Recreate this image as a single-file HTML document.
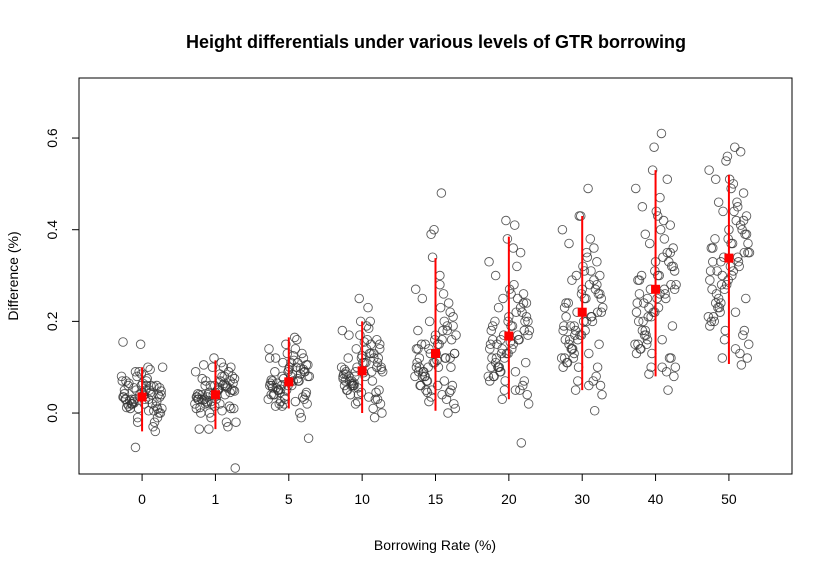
<!DOCTYPE html>
<html><head><meta charset="utf-8"><style>
html,body{margin:0;padding:0;background:#fff;}
svg{display:block;font-family:"Liberation Sans",Arial,sans-serif;}
</style></head><body>
<svg id="chart" width="832" height="573" xmlns="http://www.w3.org/2000/svg">
<text x="436" y="48" text-anchor="middle" font-size="18" font-weight="bold">Height differentials under various levels of GTR borrowing</text>
<rect x="79" y="78" width="713" height="396" fill="none" stroke="#000"/>
<g id="axes"></g>
<g id="points"></g>
<g id="summary"></g>
<text x="435" y="550" text-anchor="middle" font-size="14">Borrowing Rate (%)</text>
<text transform="translate(18,276) rotate(-90)" text-anchor="middle" font-size="14">Difference (%)</text>
</svg>
<script>
const categories = ["0","1","5","10","15","20","30","40","50"];
const means = [0.035,0.04,0.068,0.092,0.13,0.168,0.22,0.27,0.338];
const lowers = [-0.04,-0.035,0.01,0.0,0.005,0.03,0.05,0.08,0.107];
const uppers = [0.1,0.115,0.165,0.2,0.338,0.385,0.43,0.53,0.52];
const yTicks = [0.0,0.2,0.4,0.6];
const yTickLabels = ["0.0","0.2","0.4","0.6"];
const jitter = [-0.22,0.1,-0.05,0.2,-0.15,0.03,0.25,-0.27,0.08,-0.1,0.17,-0.02,0.22,-0.2,0.12,-0.07,0.27,-0.25,0.05,-0.12,0.15,0.0,-0.18,0.19,-0.04,0.09,-0.23,0.24,-0.09,0.13,-0.14,0.06,-0.26,0.21,-0.01,0.11,-0.17,0.26,-0.06,0.02,-0.21,0.16,-0.11,0.07,-0.24,
  0.04,-0.19,0.23,-0.08,0.14,-0.28,0.18,-0.03,0.28,-0.13,0.01,-0.16,0.24,-0.26,0.12,-0.06,0.2,-0.22,0.09,-0.11,0.16,-0.01,0.26,-0.18,0.06,-0.14,0.21,-0.24,0.03,-0.09,0.11,-0.2,0.27,-0.04,0.17,-0.27,0.07,-0.12,0.22,-0.07,0.13];
const g0 = [0.03,0.05,0.01,0.06,0.02,0.04,0.0,0.07,0.1,0.03,-0.02,0.15,0.04,0.02,0.06,0.08,0.01,0.035,0.05,0.025,-0.03,0.045,0.065,0.015,0.09,0.005,0.03,0.055,-0.075,0.04,0.02,0.07,0.035,0.01,0.06,0.095,0.028,0.048,-0.01,0.038,0.012,0.058,0.022,0.075,0.042,
  0.03,0.06,0.0,0.05,0.02,0.08,-0.04,0.04,0.1,0.02,0.065,0.01,0.035,0.155,0.045,-0.02,0.025,0.07,0.03,0.055,0.005,0.085,0.04,0.015,0.06,0.03,-0.01,0.05,0.02,0.09];
const g1 = [0.04,0.06,0.02,0.07,0.03,0.05,0.01,0.09,0.11,0.04,-0.03,0.12,0.05,0.0,0.08,0.06,-0.12,0.035,0.055,0.025,-0.02,0.045,0.075,0.015,0.1,0.005,0.03,0.065,-0.035,0.04,0.02,0.085,0.035,0.01,0.06,0.1,0.028,0.048,-0.01,0.038,0.012,0.058,0.022,0.07,0.042,
  0.05,0.03,0.08,0.0,0.06,0.02,0.09,0.04,-0.02,0.07,0.03,0.105,0.05,0.01,0.065,0.025,0.045,-0.035,0.08,0.035,0.055,0.015,0.075,0.04,0.02,0.06,0.1,0.03,0.05,0.045];
const g2 = [0.07,0.1,0.03,0.12,0.05,0.08,0.02,0.14,0.165,0.06,-0.01,0.13,0.09,0.04,0.11,0.075,-0.055,0.065,0.085,0.045,0.0,0.095,0.12,0.035,0.15,0.025,0.06,0.105,0.015,0.07,0.05,0.125,0.06,0.03,0.09,0.16,0.055,0.08,0.02,0.068,0.04,0.098,0.052,0.115,0.072,
  0.06,0.09,0.04,0.11,0.07,0.03,0.13,0.05,0.08,0.02,0.1,0.065,0.045,0.12,0.075,0.035,0.095,0.055,0.14,0.025,0.085,0.06,0.105,0.015,0.07,0.05,0.09,0.04,0.11,0.08];
const g3 = [0.09,0.13,0.04,0.16,0.06,0.11,0.02,0.18,0.23,0.08,-0.01,0.2,0.12,0.05,0.15,0.1,0.0,0.085,0.11,0.06,0.01,0.125,0.17,0.045,0.25,0.035,0.07,0.14,0.02,0.09,0.065,0.19,0.08,0.03,0.12,0.2,0.07,0.1,0.025,0.088,0.05,0.13,0.06,0.16,0.095,
  0.08,0.12,0.05,0.14,0.07,0.1,0.03,0.17,0.09,0.06,0.11,0.04,0.15,0.075,0.13,0.055,0.1,0.085,0.185,0.065,0.12,0.045,0.095,0.08,0.14,0.07,0.11,0.06,0.155,0.09];
const g4 = [0.12,0.18,0.05,0.22,0.08,0.15,0.02,0.27,0.48,0.1,0.0,0.4,0.16,0.06,0.2,0.13,0.01,0.11,0.15,0.07,0.03,0.17,0.25,0.045,0.34,0.04,0.09,0.19,0.025,0.12,0.08,0.3,0.1,0.05,0.16,0.26,0.09,0.13,0.035,0.115,0.06,0.18,0.07,0.23,0.14,
  0.1,0.15,0.06,0.2,0.12,0.08,0.24,0.11,0.17,0.05,0.13,0.09,0.21,0.14,0.07,0.39,0.12,0.1,0.16,0.045,0.19,0.11,0.13,0.08,0.28,0.15,0.1,0.18,0.06,0.14];
const g5 = [0.16,0.22,0.07,0.26,0.1,0.19,0.04,0.33,0.41,0.13,-0.065,0.38,0.2,0.08,0.25,0.17,0.02,0.15,0.19,0.09,0.05,0.21,0.3,0.06,0.42,0.05,0.12,0.24,0.03,0.16,0.1,0.36,0.14,0.07,0.2,0.32,0.12,0.17,0.05,0.155,0.08,0.23,0.09,0.28,0.18,
  0.14,0.2,0.11,0.25,0.16,0.08,0.22,0.13,0.18,0.1,0.27,0.15,0.21,0.07,0.17,0.12,0.24,0.19,0.09,0.16,0.35,0.13,0.2,0.11,0.15,0.23,0.18,0.1,0.26,0.14];
const g6 = [0.21,0.28,0.1,0.33,0.14,0.25,0.06,0.4,0.49,0.17,0.005,0.43,0.26,0.11,0.31,0.22,0.04,0.19,0.25,0.12,0.07,0.27,0.37,0.08,0.43,0.06,0.16,0.3,0.05,0.21,0.14,0.35,0.18,0.1,0.26,0.38,0.16,0.22,0.07,0.2,0.11,0.29,0.13,0.34,0.23,
  0.18,0.24,0.15,0.3,0.2,0.12,0.27,0.17,0.23,0.14,0.32,0.19,0.26,0.1,0.21,0.16,0.28,0.24,0.13,0.19,0.36,0.17,0.25,0.15,0.2,0.29,0.22,0.12,0.31,0.18];
const g7 = [0.26,0.34,0.13,0.41,0.17,0.3,0.08,0.49,0.61,0.21,0.05,0.58,0.32,0.14,0.38,0.27,0.1,0.24,0.3,0.15,0.09,0.33,0.45,0.12,0.53,0.1,0.2,0.36,0.085,0.26,0.18,0.47,0.22,0.12,0.31,0.42,0.2,0.27,0.1,0.25,0.14,0.35,0.16,0.4,0.29,
  0.23,0.3,0.19,0.37,0.25,0.15,0.33,0.22,0.28,0.17,0.44,0.24,0.32,0.13,0.27,0.21,0.35,0.29,0.16,0.25,0.51,0.22,0.31,0.18,0.26,0.39,0.28,0.15,0.43,0.23];
const g8 = [0.33,0.42,0.18,0.48,0.23,0.37,0.12,0.53,0.58,0.28,0.105,0.56,0.39,0.2,0.45,0.34,0.15,0.31,0.37,0.22,0.13,0.4,0.51,0.17,0.55,0.14,0.27,0.43,0.12,0.33,0.25,0.5,0.29,0.18,0.38,0.46,0.26,0.35,0.16,0.32,0.21,0.41,0.24,0.44,0.36,
  0.3,0.38,0.25,0.44,0.32,0.21,0.4,0.28,0.35,0.23,0.51,0.31,0.39,0.19,0.34,0.27,0.42,0.36,0.22,0.33,0.57,0.29,0.37,0.24,0.31,0.46,0.35,0.2,0.49,0.3];
const groups = [g0,g1,g2,g3,g4,g5,g6,g7,g8];

const NS="http://www.w3.org/2000/svg";
const X0=79,X1=792,Y0=78,Y1=474;
const xMin=0.14,xMax=9.86,yMin=-0.133,yMax=0.731;
function xScale(v){return X0+(v-xMin)/(xMax-xMin)*(X1-X0);}
function yScale(v){return Y1-(v-yMin)/(yMax-yMin)*(Y1-Y0);}
function mk(tag,attrs,parent){const e=document.createElementNS(NS,tag);for(const k in attrs)e.setAttribute(k,attrs[k]);parent.appendChild(e);return e;}
const axes=document.getElementById('axes');
const pts=document.getElementById('points');
const sum=document.getElementById('summary');
categories.forEach((c,i)=>{
  const x=xScale(i+1);
  const t=mk('line',{x1:x,x2:x,y1:Y1,y2:Y1+7,stroke:'#000'},axes);
  
  
  const l=mk('text',{x:x,y:Y1+30,'text-anchor':'middle','font-size':14},axes);
  l.textContent=c;
  
  
});
const xa=mk('line',{x1:xScale(1),x2:xScale(9),y1:Y1,y2:Y1,stroke:'#000'},axes);


yTicks.forEach((v,i)=>{
  const y=yScale(v);
  const t=mk('line',{x1:X0-7,x2:X0,y1:y,y2:y,stroke:'#000'},axes);
  
  
  const l=mk('text',{transform:`translate(${X0-22},${y}) rotate(-90)`,'text-anchor':'middle','font-size':14},axes);
  l.textContent=yTickLabels[i];
  
  
});
const ya=mk('line',{x1:X0,x2:X0,y1:yScale(yTicks[0]),y2:yScale(yTicks[yTicks.length-1]),stroke:'#000'},axes);


groups.forEach((arr,i)=>{
  arr.forEach((v,j)=>{
    const p=mk('circle',{cx:xScale(i+1+jitter[j%jitter.length]),cy:yScale(v),r:4.3,fill:'none',stroke:'#333','stroke-opacity':0.8,'stroke-width':0.9},pts);
    
    
  });
});
categories.forEach((c,i)=>{
  const x=xScale(i+1);
  const b=mk('line',{x1:x,x2:x,y1:yScale(lowers[i]),y2:yScale(uppers[i]),stroke:'#f00','stroke-width':2},sum);
  
  
  const m=mk('rect',{x:x-4.5,y:yScale(means[i])-4.5,width:9,height:9,fill:'#f00'},sum);
  
  
});
</script>
</body></html>
